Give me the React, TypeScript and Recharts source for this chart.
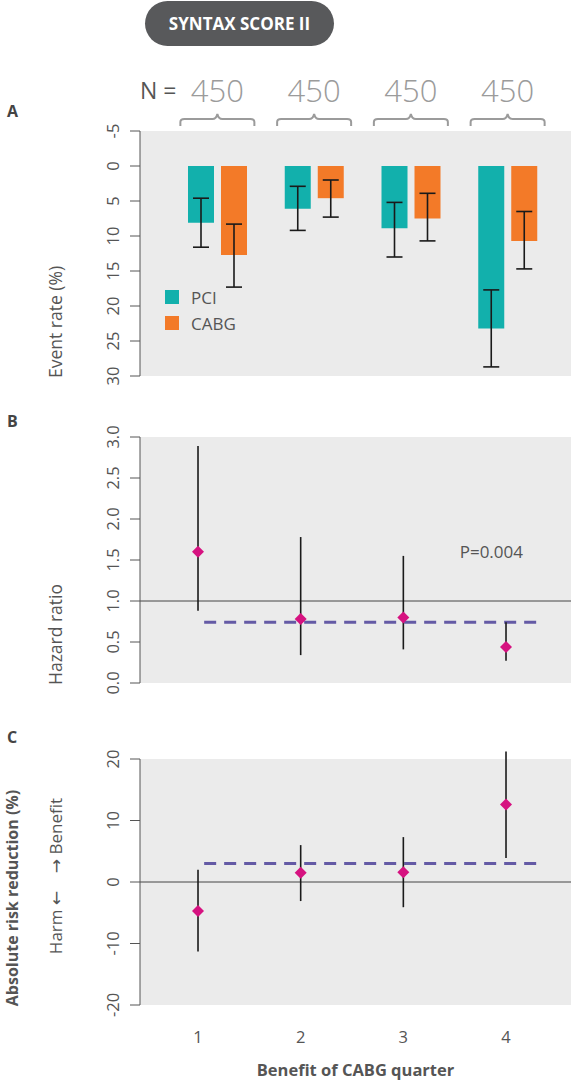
import React from 'react'
import {
  BarChart, Bar, ErrorBar, XAxis, YAxis, CartesianGrid, Legend,
  ScatterChart, Scatter, ReferenceLine,
} from 'recharts'

const QUARTERS = ['1', '2', '3', '4']
const N_PER_QUARTER = [450, 450, 450, 450]
const SERIES = ['PCI', 'CABG']

// A: event rate (%) with 95% CI
const PCI_RATE = [8.1, 6.1, 8.9, 23.2]
const PCI_LO = [4.6, 2.9, 5.2, 17.7]
const PCI_HI = [11.6, 9.2, 13.0, 28.7]
const CABG_RATE = [12.7, 4.6, 7.5, 10.7]
const CABG_LO = [8.3, 2.0, 3.9, 6.5]
const CABG_HI = [17.3, 7.3, 10.7, 14.7]

// B: hazard ratio
const HR = [1.6, 0.78, 0.8, 0.44]
const HR_LO = [0.88, 0.34, 0.41, 0.27]
const HR_HI = [2.89, 1.78, 1.55, 0.74]
const HR_OVERALL = 0.74
const P_VALUE = 'P=0.004'

// C: absolute risk reduction (%)
const ARR = [-4.7, 1.5, 1.6, 12.6]
const ARR_LO = [-11.3, -3.1, -4.1, 3.9]
const ARR_HI = [2.0, 6.0, 7.3, 21.2]
const ARR_OVERALL = 3.0

const TICKS_A = [-5, 0, 5, 10, 15, 20, 25, 30]
const TICKS_B = [0, 0.5, 1, 1.5, 2, 2.5, 3]
const TICKS_C = [-20, -10, 0, 10, 20]
const X_TICKS = [1, 2, 3, 4]
const X_DOMAIN = [0.435, 4.633]
const OVERALL_SPAN = [1.06, 4.3]

const FONT = "'Open Sans', 'Noto Sans', sans-serif"
const INK = '#555555'
const BG = '#ebebeb'
const TEAL = '#12b0ac'
const ORANGE = '#f37a28'
const MAGENTA = '#d61280'
const PURPLE = '#645aa5'

const dataA = QUARTERS.map((q, i) => ({
  q,
  pci: PCI_RATE[i],
  cabg: CABG_RATE[i],
  pciErr: [PCI_RATE[i] - PCI_LO[i], PCI_HI[i] - PCI_RATE[i]],
  cabgErr: [CABG_RATE[i] - CABG_LO[i], CABG_HI[i] - CABG_RATE[i]],
}))
const dataB = X_TICKS.map((x, i) => ({ x, y: HR[i] }))
const dataC = X_TICKS.map((x, i) => ({ x, y: ARR[i] }))

function RotatedTick({ y, payload, digits }: any) {
  const v = payload.value as number
  const label = digits ? v.toFixed(digits) : String(v)
  return (
    <text x={119} y={y} transform={`rotate(-90 119 ${y})`} textAnchor="middle"
      fontSize={16.5} fill={INK} fontFamily={FONT}>{label}</text>
  )
}

function BraceTick({ x, index }: any) {
  const b = 54, t = 59, e = 66
  return (
    <g>
      <text x={x} y={42} textAnchor="middle" fontSize={31} fontWeight={300}
        fill="#9b9b9b" fontFamily={FONT}>{N_PER_QUARTER[index]}</text>
      <path
        d={`M${x - 37},${e} L${x - 37},${t + 3} Q${x - 37},${t} ${x - 33},${t} L${x - 5},${t}
            Q${x - 1},${t} ${x},${b} Q${x + 1},${t} ${x + 5},${t} L${x + 33},${t}
            Q${x + 37},${t} ${x + 37},${t + 3} L${x + 37},${e}`}
        fill="none" stroke="#9b9b9b" strokeWidth={2} />
    </g>
  )
}

const yTitle = (text: string) => (props: any) => {
  const { viewBox } = props
  const yb = viewBox.y + viewBox.height + 2
  return (
    <text x={62} y={yb} transform={`rotate(-90 62 ${yb})`} textAnchor="start"
      fontSize={17.5} fill={INK} fontFamily={FONT}>{text}</text>
  )
}

const arrTitle = (props: any) => {
  const { viewBox } = props
  const mid = viewBox.y + viewBox.height / 2
  const arrow = { fontFamily: "'DejaVu Sans', sans-serif", fontSize: 17 }
  return (
    <g>
      <text x={18} y={mid + 16} transform={`rotate(-90 18 ${mid + 16})`} textAnchor="middle"
        fontSize={16} fontWeight={700} fill={INK} fontFamily={FONT}>Absolute risk reduction (%)</text>
      <text x={62} y={mid - 6} transform={`rotate(-90 62 ${mid - 6})`} textAnchor="middle"
        fontSize={17} fill={INK} fontFamily={FONT}>
        {'Harm\u00a0'}<tspan {...arrow}>{'\u2190'}</tspan>{'\u00a0\u00a0\u00a0\u00a0'}<tspan {...arrow}>{'\u2192'}</tspan>{'\u00a0Benefit'}
      </text>
    </g>
  )
}

const xTitle = (props: any) => {
  const { viewBox } = props
  return (
    <text x={viewBox.x + viewBox.width / 2} y={336} textAnchor="middle"
      fontSize={16.5} fontWeight={700} fill={INK} fontFamily={FONT}>Benefit of CABG quarter</text>
  )
}

function Diamond({ cx, cy }: any) {
  const r = 6
  return <polygon points={`${cx},${cy - r} ${cx + r},${cy} ${cx},${cy + r} ${cx - r},${cy}`} fill={MAGENTA} />
}

function LegendBox({ payload }: any) {
  const items = SERIES.map(name => (payload || []).find((p: any) => p.value === name)).filter(Boolean)
  return (
    <div style={{ fontFamily: FONT }}>
      {items.map((p: any) => (
        <div key={p.value} style={{ display: 'flex', alignItems: 'center', height: 26 }}>
          <span style={{ width: 14, height: 14, background: p.color, display: 'inline-block', marginRight: 12 }} />
          <span style={{ fontSize: 17, color: INK }}>{p.value}</span>
        </div>
      ))}
    </div>
  )
}

const letter = (ch: string, top: number) => (
  <div style={{ position: 'absolute', left: 7, top, fontSize: 16, fontWeight: 700, color: '#444' }}>{ch}</div>
)

export default function App() {
  return (
    <div style={{ position: 'absolute', left: 0, top: 0, width: 573, height: 1083, background: '#fff', fontFamily: FONT }}>
      <div style={{
        position: 'absolute', left: 145, top: 1, width: 189, height: 45, borderRadius: 23,
        background: '#58595b', color: '#fff', fontWeight: 700, fontSize: 17,
        display: 'flex', alignItems: 'center', justifyContent: 'center',
      }}>SYNTAX SCORE II</div>
      <div style={{ position: 'absolute', left: 140, top: 74, fontSize: 23, color: INK }}>N =</div>
      {letter('A', 100)}
      {letter('B', 410)}
      {letter('C', 726)}

      <div style={{ position: 'absolute', left: 0, top: 60 }}>
        <BarChart width={573} height={330} data={dataA} barSize={26} barGap={7}
          margin={{ top: 31, right: 2, left: 0, bottom: 14 }}>
          <CartesianGrid horizontal={false} vertical={false} fill={BG} />
          <XAxis dataKey="q" orientation="top" height={40} axisLine={false} tickLine={false}
            padding={{ left: 29, right: 15 }} tick={(p: any) => <BraceTick {...p} />} />
          <YAxis type="number" domain={[-5, 30]} ticks={TICKS_A} reversed width={140}
            tickSize={10} stroke={INK} tick={(p: any) => <RotatedTick {...p} />}
            label={yTitle('Event rate (%)')} />
          <Legend layout="vertical" align="center" verticalAlign="middle"
            wrapperStyle={{ left: 165, top: 224, width: 120, height: 52 }} content={<LegendBox />} />
          <Bar dataKey="pci" name="PCI" fill={TEAL} isAnimationActive={false}>
            <ErrorBar dataKey="pciErr" direction="y" width={8} stroke="#1a1a1a" strokeWidth={1.6} />
          </Bar>
          <Bar dataKey="cabg" name="CABG" fill={ORANGE} isAnimationActive={false}>
            <ErrorBar dataKey="cabgErr" direction="y" width={8} stroke="#1a1a1a" strokeWidth={1.6} />
          </Bar>
        </BarChart>
      </div>

      <div style={{ position: 'absolute', left: 0, top: 420 }}>
        <ScatterChart width={573} height={280} margin={{ top: 17, right: 2, left: 0, bottom: 17 }}>
          <CartesianGrid horizontal={false} vertical={false} fill={BG} />
          <XAxis type="number" dataKey="x" domain={X_DOMAIN} ticks={X_TICKS} hide />
          <YAxis type="number" dataKey="y" domain={[0, 3]} ticks={TICKS_B} width={140}
            tickSize={10} stroke={INK} tick={(p: any) => <RotatedTick {...p} digits={1} />}
            label={yTitle('Hazard ratio')} />
          <ReferenceLine y={1} stroke="#444" strokeWidth={1} />
          <ReferenceLine segment={[{ x: OVERALL_SPAN[0], y: HR_OVERALL }, { x: OVERALL_SPAN[1], y: HR_OVERALL }]}
            stroke={PURPLE} strokeWidth={3} strokeDasharray="12 8" ifOverflow="visible" />
          {X_TICKS.map((x, i) => (
            <ReferenceLine key={x} segment={[{ x, y: HR_LO[i] }, { x, y: HR_HI[i] }]}
              stroke="#1a1a1a" strokeWidth={1.6} ifOverflow="visible" />
          ))}
          <ReferenceLine y={1.6} stroke="none" ifOverflow="visible"
            label={{ value: P_VALUE, position: 'insideRight', offset: 48, fill: INK, fontSize: 17, fontFamily: FONT }} />
          <Scatter data={dataB} shape={(p: any) => <Diamond {...p} />} isAnimationActive={false} />
        </ScatterChart>
      </div>

      <div style={{ position: 'absolute', left: 0, top: 740 }}>
        <ScatterChart width={573} height={343} margin={{ top: 19, right: 2, left: 0, bottom: 0 }}>
          <CartesianGrid horizontal={false} vertical={false} fill={BG} />
          <XAxis type="number" dataKey="x" domain={X_DOMAIN} ticks={X_TICKS} height={78}
            axisLine={false} tickLine={false} tickSize={0} tickMargin={26}
            tick={{ fontSize: 16.5, fill: INK, fontFamily: FONT }} label={xTitle} />
          <YAxis type="number" dataKey="y" domain={[-20, 20]} ticks={TICKS_C} width={140}
            tickSize={10} stroke={INK} tick={(p: any) => <RotatedTick {...p} />}
            label={arrTitle} />
          <ReferenceLine y={0} stroke="#444" strokeWidth={1} />
          <ReferenceLine segment={[{ x: OVERALL_SPAN[0], y: ARR_OVERALL }, { x: OVERALL_SPAN[1], y: ARR_OVERALL }]}
            stroke={PURPLE} strokeWidth={3} strokeDasharray="12 8" ifOverflow="visible" />
          {X_TICKS.map((x, i) => (
            <ReferenceLine key={x} segment={[{ x, y: ARR_LO[i] }, { x, y: ARR_HI[i] }]}
              stroke="#1a1a1a" strokeWidth={1.6} ifOverflow="visible" />
          ))}
          <Scatter data={dataC} shape={(p: any) => <Diamond {...p} />} isAnimationActive={false} />
        </ScatterChart>
      </div>
    </div>
  )
}
